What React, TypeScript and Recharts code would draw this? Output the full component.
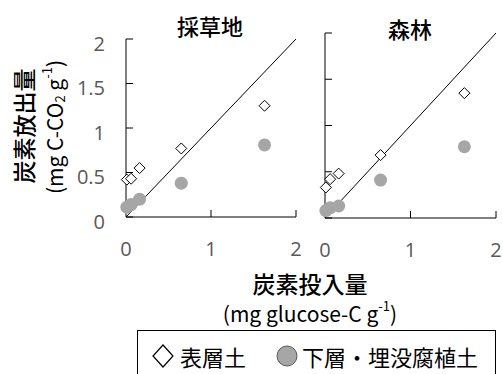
import { ReferenceLine, Scatter, ScatterChart, XAxis, YAxis } from "recharts";

// glucose-C added (mg g-1) for each incubation step
const glucoseInput = [0.01, 0.06, 0.16, 0.65, 1.63];

// 採草地 (grassland)
const grassSurface = [0.42, 0.43, 0.55, 0.77, 1.25];
const grassSubsoil = [0.11, 0.14, 0.2, 0.38, 0.81];

// 森林 (forest)
const forestSurface = [0.33, 0.42, 0.48, 0.68, 1.35];
const forestSubsoil = [0.08, 0.11, 0.13, 0.41, 0.77];

const xTicks = [0, 1, 2];
const yTicks = [0, 0.5, 1, 1.5, 2];
const panelTitles = ["採草地", "森林"];
const legendLabels = ["表層土", "下層・埋没腐植土"];

const FONT = "'Noto Sans CJK JP', 'Noto Sans', sans-serif";
const NUM_FONT = "'Open Sans', 'Noto Sans', sans-serif";
const GREY = "#A6A6A6";
const TICK_GREY = "#595959";
const X_MARGIN = 22;
const Y_MARGIN = 21;

const toPoints = (ys: number[]) => ys.map((y, i) => ({ x: glucoseInput[i], y }));

const Diamond = (props: any) => {
	const { cx, cy } = props;
	if (cx == null || cy == null) return null;
	const r = 5.5;
	return (
		<path
			d={`M${cx},${cy - r}L${cx + r},${cy}L${cx},${cy + r}L${cx - r},${cy}Z`}
			fill="#fff"
			stroke="#000"
			strokeWidth={1}
		/>
	);
};

const Dot = (props: any) => {
	const { cx, cy } = props;
	if (cx == null || cy == null) return null;
	return <circle cx={cx} cy={cy} r={6.5} fill={GREY} />;
};

const XTick = (props: any) => {
	const { x, y, payload } = props;
	const axisY = y - X_MARGIN;
	return (
		<g>
			{payload.value !== 0 ? (
				<line x1={x} x2={x} y1={axisY} y2={axisY - 7} stroke="#000" />
			) : null}
			<text x={x} y={axisY + 39} textAnchor="middle" fill={TICK_GREY} fontSize={20} fontFamily={NUM_FONT}>
				{payload.value}
			</text>
		</g>
	);
};

const makeYTick = (showLabel: boolean) => (props: any) => {
	const { x, y, payload } = props;
	const axisX = x + Y_MARGIN;
	return (
		<g>
			<line x1={axisX} x2={axisX + 7} y1={y} y2={y} stroke="#000" />
			{showLabel ? (
				<text x={x} y={y + 11.5} textAnchor="end" fill={TICK_GREY} fontSize={20} fontFamily={NUM_FONT}>
					{payload.value}
				</text>
			) : null}
		</g>
	);
};

function Panel({
	surface,
	subsoil,
	width,
	height,
	top,
	right,
	yWidth,
	showYLabels,
}: {
	surface: number[];
	subsoil: number[];
	width: number;
	height: number;
	top: number;
	right: number;
	yWidth: number;
	showYLabels: boolean;
}) {
	return (
		<ScatterChart width={width} height={height} margin={{ top, right, bottom: 0, left: 0 }}>
			<XAxis
				dataKey="x"
				type="number"
				domain={[0, 2]}
				ticks={xTicks}
				height={53}
				axisLine={{ stroke: "#000" }}
				tickLine={false}
				tickSize={0}
				tickMargin={X_MARGIN}
				tick={<XTick />}
				interval={0}
			/>
			<YAxis
				dataKey="y"
				type="number"
				domain={[0, 2]}
				ticks={yTicks}
				width={yWidth}
				axisLine={{ stroke: "#000" }}
				tickLine={false}
				tickSize={0}
				tickMargin={Y_MARGIN}
				tick={makeYTick(showYLabels)}
				interval={0}
			/>
			<ReferenceLine
				segment={[
					{ x: 0, y: 0 },
					{ x: 2, y: 2 },
				]}
				stroke="#000"
				strokeWidth={1}
				ifOverflow="visible"
			/>
			<Scatter data={toPoints(subsoil)} shape={<Dot />} isAnimationActive={false} />
			<Scatter data={toPoints(surface)} shape={<Diamond />} isAnimationActive={false} />
		</ScatterChart>
	);
}

export default function App() {
	return (
		<div
			style={{
				position: "absolute",
				left: 0,
				top: 0,
				width: 503,
				height: 374,
				background: "#fff",
				overflow: "hidden",
				fontFamily: FONT,
			}}
		>
			<div style={{ position: "absolute", left: 0, top: 0 }}>
				<Panel
					surface={grassSurface}
					subsoil={grassSubsoil}
					width={310}
					height={270}
					top={39}
					right={14}
					yWidth={126}
					showYLabels
				/>
			</div>
			<div style={{ position: "absolute", left: 300, top: 0 }}>
				<Panel
					surface={forestSurface}
					subsoil={forestSubsoil}
					width={203}
					height={271}
					top={33}
					right={7}
					yWidth={25}
					showYLabels={false}
				/>
			</div>
			<svg
				width={503}
				height={374}
				style={{ position: "absolute", left: 0, top: 0, pointerEvents: "none" }}
				fontFamily={FONT}
			>
				<text x={210} y={25} textAnchor="middle" dominantBaseline="central" fontSize={22} fontWeight={500}>
					{panelTitles[0]}
				</text>
				<text x={410} y={28} textAnchor="middle" dominantBaseline="central" fontSize={22} fontWeight={500}>
					{panelTitles[1]}
				</text>

				<text
					x={23}
					y={126}
					transform="rotate(-90 23 126)"
					textAnchor="middle"
					dominantBaseline="central"
					fontSize={23}
					fontWeight={500}
				>
					炭素放出量
				</text>
				<text
					x={54}
					y={127}
					transform="rotate(-90 54 127)"
					textAnchor="middle"
					dominantBaseline="central"
					fontSize={21}
				>
					(mg C-CO<tspan fontSize={13} dy={5}>2</tspan>
					<tspan dy={-5}> g</tspan>
					<tspan fontSize={13} dy={-8}>-1</tspan>
					<tspan dy={8}>)</tspan>
				</text>

				<text x={310} y={283} textAnchor="middle" dominantBaseline="central" fontSize={23} fontWeight={500}>
					炭素投入量
				</text>
				<text x={310} y={313} textAnchor="middle" dominantBaseline="central" fontSize={21}>
					(mg glucose-C g<tspan fontSize={13} dy={-8}>-1</tspan>
					<tspan dy={8}>)</tspan>
				</text>

				<rect x={137.5} y={330.5} width={358} height={60} fill="#fff" stroke="#000" strokeWidth={1} />
				<path d="M163,345L173,356L163,367L153,356Z" fill="#fff" stroke="#000" strokeWidth={1.2} />
				<text x={180} y={356} dominantBaseline="central" fontSize={22}>
					{legendLabels[0]}
				</text>
				<circle cx={287} cy={356} r={10} fill={GREY} stroke="#595959" strokeWidth={1} />
				<text x={302} y={356} dominantBaseline="central" fontSize={22}>
					{legendLabels[1]}
				</text>
			</svg>
		</div>
	);
}
